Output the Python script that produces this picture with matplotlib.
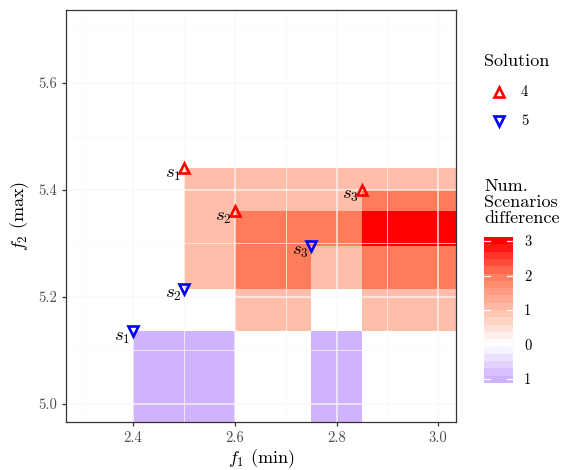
import numpy as np
import matplotlib
matplotlib.use("Agg")
import matplotlib.pyplot as plt
from matplotlib.colors import LinearSegmentedColormap, Normalize
from matplotlib.lines import Line2D

plt.rcParams['font.family'] = 'cmr10'
plt.rcParams['mathtext.fontset'] = 'cm'
plt.rcParams['axes.formatter.use_mathtext'] = True

# solution points (f1, f2)
sol4_x = [2.5, 2.6, 2.85]
sol4_y = [5.44, 5.36, 5.40]
sol5_x = [2.4, 2.5, 2.75]
sol5_y = [5.136, 5.215, 5.295]
labels = ['$s_1$', '$s_2$', '$s_3$']

# difference tiles (rows from bottom to top)
x_edges = [2.4, 2.5, 2.6, 2.75, 2.85, 3.2]
y_edges = [4.8, 5.136, 5.215, 5.295, 5.36, 5.40, 5.44]
diff = np.array([
    [-1, -1, 0, -1, 0],
    [0, 0, 1, 0, 1],
    [0, 1, 2, 1, 2],
    [0, 1, 2, 2, 3],
    [0, 1, 1, 1, 2],
    [0, 1, 1, 1, 1],
])
cbar_ticks = [-1, 0, 1, 2, 3]
cbar_labels = ['1', '0', '1', '2', '3']

cmap = LinearSegmentedColormap.from_list('diff', [
    (0.0, '#D0B3FF'),
    (0.25, '#FFFFFF'),
    (0.5, '#FFBFAB'),
    (0.75, '#FF7D5C'),
    (1.0, '#FF0000'),
])
norm = Normalize(-1, 3)

fig = plt.figure(figsize=(5.62, 4.70), dpi=100)
ax = fig.add_axes([66/562, 48/470, 390/562, 412/470])

ax.pcolormesh(x_edges, y_edges, diff, cmap=cmap, norm=norm, zorder=1)

# grid on top
gc = '#F8F8F8'
for v in [2.4, 2.6, 2.8, 3.0]:
    ax.axvline(v, color=gc, alpha=0.85, lw=1.1, zorder=2)
for v in [2.3, 2.5, 2.7, 2.9]:
    ax.axvline(v, color=gc, alpha=0.85, lw=0.6, zorder=2)
for v in [5.0, 5.2, 5.4, 5.6]:
    ax.axhline(v, color=gc, alpha=0.85, lw=1.1, zorder=2)
for v in [5.1, 5.3, 5.5, 5.7]:
    ax.axhline(v, color=gc, alpha=0.85, lw=0.6, zorder=2)

ax.plot(sol4_x, sol4_y, ls='none', marker='^', ms=6.5, mfc='none', mec='red', mew=1.9, zorder=4)
ax.plot(sol5_x, sol5_y, ls='none', marker='v', ms=6.5, mfc='none', mec='blue', mew=1.9, zorder=4)
for xs, ys in [(sol4_x, sol4_y), (sol5_x, sol5_y)]:
    for x, y, t in zip(xs, ys, labels):
        ax.annotate(t, (x, y), xytext=(-2, -4), textcoords='offset points',
                    ha='right', va='center', fontsize=13.5, zorder=5)

ax.set_xlim(2.268, 3.035)
ax.set_ylim(4.966, 5.736)
ax.set_xticks([2.4, 2.6, 2.8, 3.0])
ax.set_yticks([5.0, 5.2, 5.4, 5.6])
ax.set_xticklabels(['2.4', '2.6', '2.8', '3.0'])
ax.set_yticklabels(['5.0', '5.2', '5.4', '5.6'])
ax.tick_params(colors='#333333', labelcolor='#4D4D4D', labelsize=10.5, length=3, width=0.9)
for s in ax.spines.values():
    s.set_color('#333333')
    s.set_linewidth(0.9)
ax.set_xlabel('$f_1$ (min)', fontsize=13, labelpad=2)
ax.set_ylabel('$f_2$ (max)', fontsize=13, labelpad=5)

# legend: Solution
fig.text(484/562, 1 - 61/470, 'Solution', fontsize=13, va='center', ha='left')
fig.add_artist(Line2D([499/562], [1 - 92/470], ls='none', marker='^', ms=6.5,
                      mfc='none', mec='red', mew=1.9, transform=fig.transFigure))
fig.add_artist(Line2D([499/562], [1 - 121/470], ls='none', marker='v', ms=6.5,
                      mfc='none', mec='blue', mew=1.9, transform=fig.transFigure))
fig.text(521/562, 1 - 92/470, '4', fontsize=10.5, va='center', ha='left')
fig.text(521/562, 1 - 121/470, '5', fontsize=10.5, va='center', ha='left')

# legend: colour bar
fig.text(484/562, 1 - 202/470, 'Num.\nScenarios\ndifference', fontsize=13,
         va='center', ha='left', linespacing=1.05)
cax = fig.add_axes([484/562, 87/470, 29/562, 146/470])
lo, hi = -1.12, 3.12
edges = np.linspace(lo, hi, 21)
centers = (edges[:-1] + edges[1:]) / 2
cax.pcolormesh([0, 1], edges, centers.reshape(-1, 1), cmap=cmap, norm=norm)
for t in cbar_ticks:
    cax.plot([0, 0.2], [t, t], color='white', lw=0.9)
    cax.plot([0.8, 1], [t, t], color='white', lw=0.9)
cax.set_xlim(0, 1)
cax.set_ylim(lo, hi)
cax.set_xticks([])
cax.set_yticks(cbar_ticks)
cax.set_yticklabels(cbar_labels)
cax.yaxis.tick_right()
cax.tick_params(length=0, labelsize=10.5, pad=8)
for s in cax.spines.values():
    s.set_visible(False)

fig.savefig('out.png', dpi=100)
